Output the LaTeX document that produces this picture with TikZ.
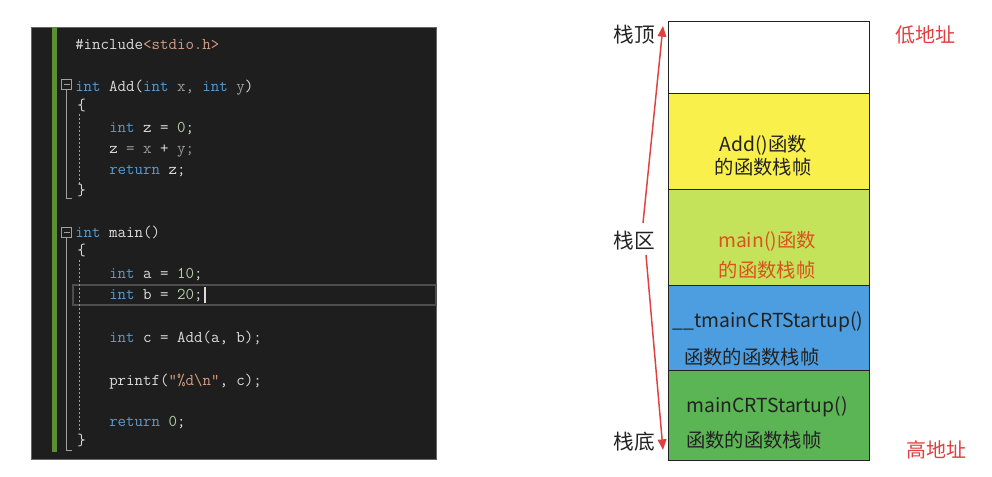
\documentclass[tikz,border=0pt]{standalone}
\usepackage{fontspec}
\newfontfamily\cjk{Noto Sans CJK SC}
\usetikzlibrary{arrows.meta}
\definecolor{bg}{HTML}{1E1E1E}
\definecolor{kw}{HTML}{569CD6}
\definecolor{tx}{HTML}{DCDCDC}
\definecolor{nm}{HTML}{B5CEA8}
\definecolor{st}{HTML}{D69D85}
\definecolor{pa}{HTML}{9B9B9B}
\definecolor{bar}{HTML}{5C8F35}
\definecolor{guide}{HTML}{A0A0A0}
\definecolor{hl}{HTML}{4E4E4E}
\definecolor{yel}{HTML}{FAF04B}
\definecolor{lgr}{HTML}{C4E25A}
\definecolor{blu}{HTML}{4C9EE0}
\definecolor{dgr}{HTML}{5BB554}
\definecolor{redc}{HTML}{E0403F}
\definecolor{orc}{HTML}{D9531E}
\definecolor{dk}{HTML}{222222}
\begin{document}
\begin{tikzpicture}[x=0.75pt,y=-0.75pt,
  code/.style={anchor=base west,inner sep=0pt,font=\ttfamily\fontsize{12.35}{14}\selectfont,text=tx},
  frame/.style={draw=dk,line width=0.8pt,minimum width=150.75pt,inner sep=0pt,anchor=north west},
  boxtext/.style={inner sep=0pt,font=\cjk\fontsize{14.5}{17}\selectfont,text=dk},
  sidelabel/.style={inner sep=0pt,font=\cjk\fontsize{15.5}{18}\selectfont,text=dk},
  addrlabel/.style={inner sep=0pt,font=\cjk\fontsize{15}{18}\selectfont,text=redc},
  redarrow/.style={draw=redc,line width=1.1pt,-{Triangle[length=8pt,width=6.5pt]}},
  fold/.style={draw=guide,line width=0.6pt},
  dguide/.style={draw=guide,line width=0.6pt,dash pattern=on 1.5pt off 1.5pt}]
\useasboundingbox (0,0) rectangle (992,476);
\fill[white] (0,0) rectangle (992,476);
% ---------- code panel ----------
\node[fill=bg,draw=black!60,line width=0.5pt,minimum width=303.75pt,minimum height=324pt,inner sep=0pt,anchor=north west] (panel) at (31,27) {};
\fill[bar] (52,27) rectangle (57,452);
% highlight current line
\draw[draw=hl,line width=0.9pt] (73,285) rectangle (436,305);
% fold markers
\draw[fold,fill=bg] (61.5,79.5) rectangle (71.5,89.5);
\draw[fold] (63.5,84.5) -- (69.5,84.5);
\draw[fold] (66.5,89.5) -- (66.5,198) -- (72,198);
\draw[dguide] (79,114) -- (79,184);
\draw[fold,fill=bg] (61.5,227.5) rectangle (71.5,237.5);
\draw[fold] (63.5,232.5) -- (69.5,232.5);
\draw[fold] (66.5,237.5) -- (66.5,450) -- (72,450);
\draw[dguide] (79,260) -- (79,432);
% code lines
\node[code] (l1) at (75,49) {\#include{\color{st}<stdio.h>}};
\node[code] (l2) at (75,91) {{\color{kw}int}\ Add({\color{kw}int}\ {\color{pa}x,}\ {\color{kw}int}\ {\color{pa}y})};
\node[code] (l3) at (77,110) {\{};
\node[code] (l4) at (109,132) {{\color{kw}int}\ z = {\color{nm}0};};
\node[code] (l5) at (109,153) {z\ {\color{pa}=\ x}\ +\ {\color{pa}y;}};
\node[code] (l6) at (109,174) {{\color{kw}return}\ z;};
\node[code] (l7) at (77,195) {\}};
\node[code] (l8) at (75,237) {{\color{kw}int}\ main()};
\node[code] (l9) at (77,255) {\{};
\node[code] (l10) at (109,278) {{\color{kw}int}\ a = {\color{nm}10};};
\node[code] (l11) at (109,299) {{\color{kw}int}\ b = {\color{nm}20};};
\node[code] (l12) at (109,342) {{\color{kw}int}\ c = Add(a, b);};
\node[code] (l13) at (109,385) {printf({\color{st}"\%d\textbackslash n"}, c);};
\node[code] (l14) at (109,426) {{\color{kw}return}\ {\color{nm}0};};
\node[code] (l15) at (77,445) {\}};
\draw[tx,line width=0.8pt] (205,287) -- (205,303);
% ---------- stack ----------
\node[frame,fill=white,minimum height=54pt] (top) at (668,21) {};
\node[frame,fill=yel,minimum height=72pt] (addf) at (668,93) {};
\node[frame,fill=lgr,minimum height=72pt] (mainf) at (668,189) {};
\node[frame,fill=blu,minimum height=63.75pt] (tmainf) at (668,285) {};
\node[frame,fill=dgr,minimum height=67.5pt] (crtf) at (668,370) {};
\node[boxtext] (addt1) at (763,145) {Add()函数};
\node[boxtext] (addt2) at (763,167) {的函数栈帧};
\node[boxtext,text=orc] (maint1) at (767,241) {main()函数};
\node[boxtext,text=orc] (maint2) at (767,270) {的函数栈帧};
\node[boxtext,anchor=west] (tm1) at (672,322) {\_\kern0.5pt\_tmainCRTStartup()};
\node[boxtext,anchor=west] (tm2) at (684,357) {函数的函数栈帧};
\node[boxtext,anchor=west] (cr1) at (686,407) {mainCRTStartup()};
\node[boxtext,anchor=west] (cr2) at (686,440) {函数的函数栈帧};
% labels
\node[sidelabel] (stop) at (634.5,35) {栈顶};
\node[sidelabel] (smid) at (634.5,241) {栈区};
\node[sidelabel] (sbot) at (634.5,442) {栈底};
\node[addrlabel] (low) at (925,35) {低地址};
\node[addrlabel] (high) at (936,450) {高地址};
% arrows
\coordinate (upS) at (643,223);
\coordinate (upE) at (663,26);
\coordinate (dnS) at (646,255);
\coordinate (dnE) at (663,450);
\draw[redarrow] (upS) -- (upE);
\draw[redarrow] (dnS) -- (dnE);
\end{tikzpicture}
\end{document}
